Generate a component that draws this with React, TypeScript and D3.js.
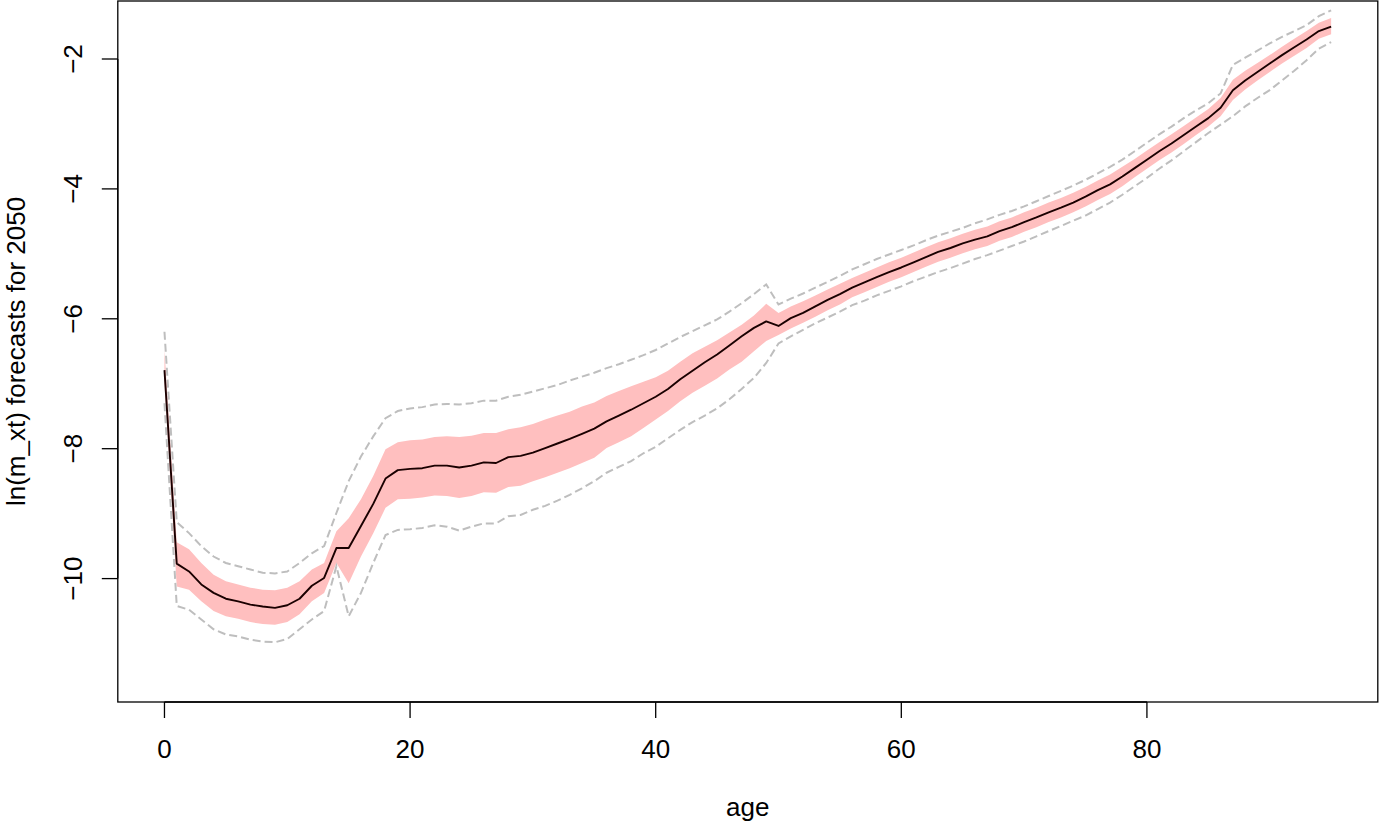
import React from "react";
import * as d3 from "d3";

const ages: number[] = Array.from({ length: 96 }, (_, i) => i);

const meanForecast: number[] = [
  -6.79, -9.77, -9.89, -10.09, -10.22, -10.31, -10.35, -10.40, -10.43, -10.45,
  -10.41, -10.31, -10.11, -9.99, -9.53, -9.53, -9.19, -8.85, -8.46, -8.33,
  -8.31, -8.30, -8.26, -8.26, -8.29, -8.26, -8.21, -8.22, -8.13, -8.11,
  -8.06, -7.99, -7.92, -7.85, -7.77, -7.69, -7.58, -7.49, -7.40, -7.30,
  -7.20, -7.08, -6.93, -6.80, -6.67, -6.55, -6.41, -6.27, -6.14, -6.04,
  -6.11, -5.99, -5.91, -5.81, -5.71, -5.62, -5.52, -5.44, -5.36, -5.28,
  -5.21, -5.13, -5.05, -4.97, -4.91, -4.84, -4.78, -4.73, -4.65, -4.59,
  -4.51, -4.44, -4.36, -4.29, -4.21, -4.12, -4.02, -3.93, -3.81, -3.68,
  -3.55, -3.42, -3.30, -3.17, -3.04, -2.91, -2.75, -2.48, -2.33, -2.20,
  -2.07, -1.94, -1.82, -1.70, -1.57, -1.50,
];

const upper80: number[] = [
  -6.48, -9.44, -9.55, -9.76, -9.94, -10.04, -10.09, -10.14, -10.17, -10.18,
  -10.14, -10.04, -9.86, -9.76, -9.27, -9.07, -8.78, -8.42, -8.01, -7.90,
  -7.87, -7.86, -7.82, -7.81, -7.82, -7.80, -7.76, -7.76, -7.70, -7.67,
  -7.62, -7.55, -7.49, -7.43, -7.35, -7.29, -7.19, -7.11, -7.04, -6.97,
  -6.90, -6.80, -6.66, -6.53, -6.43, -6.33, -6.21, -6.09, -5.95, -5.77,
  -5.91, -5.81, -5.73, -5.64, -5.55, -5.46, -5.37, -5.29, -5.21, -5.13,
  -5.06, -4.98, -4.90, -4.82, -4.76, -4.69, -4.63, -4.58, -4.50, -4.44,
  -4.36, -4.29, -4.21, -4.14, -4.06, -3.97, -3.87, -3.78, -3.66, -3.54,
  -3.41, -3.28, -3.16, -3.03, -2.90, -2.77, -2.60, -2.32, -2.18, -2.06,
  -1.94, -1.81, -1.69, -1.57, -1.44, -1.37,
];

const lower80: number[] = [
  -7.00, -10.12, -10.17, -10.35, -10.50, -10.58, -10.62, -10.67, -10.70, -10.71,
  -10.67, -10.55, -10.35, -10.22, -9.76, -10.07, -9.66, -9.30, -8.91, -8.78,
  -8.77, -8.75, -8.72, -8.73, -8.76, -8.73, -8.67, -8.68, -8.59, -8.57,
  -8.50, -8.44, -8.37, -8.30, -8.22, -8.14, -7.99, -7.90, -7.81, -7.68,
  -7.55, -7.42, -7.27, -7.14, -7.03, -6.92, -6.78, -6.66, -6.50, -6.34,
  -6.25, -6.15, -6.06, -5.97, -5.87, -5.78, -5.67, -5.59, -5.51, -5.43,
  -5.36, -5.28, -5.20, -5.12, -5.06, -4.99, -4.93, -4.88, -4.80, -4.74,
  -4.66, -4.59, -4.51, -4.44, -4.36, -4.27, -4.17, -4.08, -3.96, -3.82,
  -3.69, -3.56, -3.44, -3.31, -3.17, -3.04, -2.88, -2.63, -2.47, -2.33,
  -2.20, -2.07, -1.95, -1.83, -1.69, -1.62,
];

const upper95: number[] = [
  -6.20, -9.13, -9.30, -9.50, -9.66, -9.76, -9.81, -9.86, -9.91, -9.92,
  -9.89, -9.76, -9.61, -9.50, -8.99, -8.50, -8.12, -7.81, -7.53, -7.42,
  -7.38, -7.36, -7.32, -7.31, -7.32, -7.30, -7.26, -7.26, -7.20, -7.17,
  -7.12, -7.07, -7.02, -6.95, -6.89, -6.83, -6.76, -6.70, -6.63, -6.56,
  -6.48, -6.38, -6.28, -6.19, -6.10, -6.01, -5.89, -5.76, -5.62, -5.47,
  -5.78, -5.69, -5.61, -5.52, -5.43, -5.34, -5.24, -5.16, -5.08, -5.01,
  -4.94, -4.87, -4.79, -4.72, -4.66, -4.60, -4.53, -4.47, -4.40, -4.34,
  -4.27, -4.19, -4.11, -4.03, -3.95, -3.86, -3.76, -3.66, -3.55, -3.42,
  -3.29, -3.16, -3.04, -2.91, -2.79, -2.68, -2.53, -2.09, -1.98, -1.87,
  -1.76, -1.66, -1.57, -1.48, -1.34, -1.25,
];

const lower95: number[] = [
  -7.30, -10.42, -10.48, -10.63, -10.78, -10.86, -10.89, -10.94, -10.97, -10.98,
  -10.93, -10.78, -10.63, -10.50, -9.81, -10.58, -10.22, -9.76, -9.33, -9.25,
  -9.24, -9.22, -9.18, -9.20, -9.26, -9.20, -9.15, -9.15, -9.04, -9.02,
  -8.94, -8.88, -8.80, -8.71, -8.61, -8.50, -8.37, -8.28, -8.19, -8.07,
  -7.97, -7.84, -7.71, -7.59, -7.49, -7.38, -7.24, -7.08, -6.91, -6.68,
  -6.38, -6.27, -6.17, -6.07, -5.98, -5.89, -5.79, -5.72, -5.64, -5.57,
  -5.50, -5.42, -5.35, -5.28, -5.22, -5.15, -5.08, -5.02, -4.95, -4.88,
  -4.81, -4.73, -4.65, -4.57, -4.49, -4.41, -4.31, -4.21, -4.09, -3.96,
  -3.83, -3.69, -3.56, -3.42, -3.28, -3.14, -3.01, -2.88, -2.73, -2.60,
  -2.48, -2.33, -2.18, -2.02, -1.84, -1.74,
];

const xTicks: number[] = [0, 20, 40, 60, 80];
const yTicks: number[] = [-2, -4, -6, -8, -10];
const xTitle = "age";
const yTitle = "ln(m_xt) forecasts for 2050";

const W = 1379;
const H = 826;
const FONT = "'Liberation Sans', Arial, Helvetica, sans-serif";

export default function App() {
  const x = d3.scaleLinear().domain([-3.8, 98.8]).range([117.8, 1377.8]);
  const y = d3.scaleLinear().domain([-11.9, -1.107]).range([702, 1]);

  const idx = ages.map((_, i) => i);
  const band = d3
    .area<number>()
    .x((i) => x(ages[i]))
    .y0((i) => y(lower80[i]))
    .y1((i) => y(upper80[i]));
  const lineOf = (arr: number[]) =>
    d3
      .line<number>()
      .x((i) => x(ages[i]))
      .y((i) => y(arr[i]))(idx) || "";

  const [x0, x1] = x.range();
  const [yb, yt] = y.range();
  const minus = (v: number) => (v < 0 ? "\u2212" + Math.abs(v) : String(v));

  return (
    <div style={{ position: "absolute", left: 0, top: 0 }}>
      <svg width={W} height={H} style={{ display: "block", background: "#fff" }}>
        <path d={band(idx) || ""} fill="#FFBFBF" stroke="none" />
        <path d={lineOf(upper95)} fill="none" stroke="#BEBEBE" strokeWidth={2} strokeDasharray="8,4" />
        <path d={lineOf(lower95)} fill="none" stroke="#BEBEBE" strokeWidth={2} strokeDasharray="8,4" />
        <path d={lineOf(meanForecast)} fill="none" stroke="#1a0000" strokeWidth={1.9} strokeLinejoin="round" />

        <rect x={x0} y={yt} width={x1 - x0} height={yb - yt} fill="none" stroke="#000" strokeWidth={1.3} />

        {/* x axis */}
        <line x1={x(xTicks[0])} x2={x(xTicks[xTicks.length - 1])} y1={yb} y2={yb} stroke="#000" strokeWidth={1.3} />
        {xTicks.map((t) => (
          <g key={"xt" + t}>
            <line x1={x(t)} x2={x(t)} y1={yb} y2={yb + 16} stroke="#000" strokeWidth={1.3} />
            <text x={x(t)} y={758} textAnchor="middle" fontFamily={FONT} fontSize={26} fill="#000">
              {t}
            </text>
          </g>
        ))}

        {/* y axis */}
        <line x1={x0} x2={x0} y1={y(yTicks[0])} y2={y(yTicks[yTicks.length - 1])} stroke="#000" strokeWidth={1.3} />
        {yTicks.map((t) => (
          <g key={"yt" + t}>
            <line x1={x0 - 16} x2={x0} y1={y(t)} y2={y(t)} stroke="#000" strokeWidth={1.3} />
            <text
              transform={`translate(82,${y(t)}) rotate(-90)`}
              textAnchor="middle"
              fontFamily={FONT}
              fontSize={26}
              fill="#000"
            >
              {minus(t)}
            </text>
          </g>
        ))}

        <text x={(x0 + x1) / 2} y={816} textAnchor="middle" fontFamily={FONT} fontSize={26} fill="#000">
          {xTitle}
        </text>
        <text
          transform={`translate(25,${(yb + yt) / 2}) rotate(-90)`}
          textAnchor="middle"
          fontFamily={FONT}
          fontSize={26}
          fill="#000"
        >
          {yTitle}
        </text>
      </svg>
    </div>
  );
}
